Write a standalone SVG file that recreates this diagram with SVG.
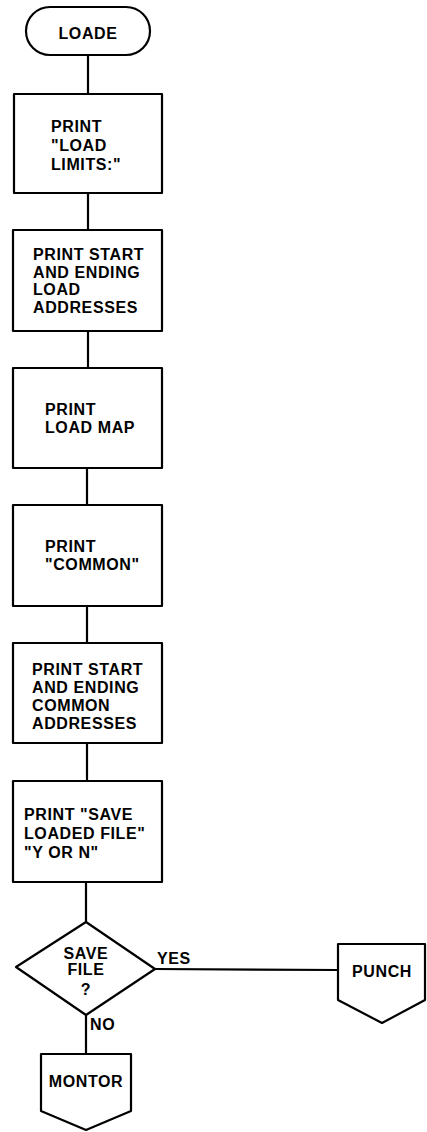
<svg xmlns="http://www.w3.org/2000/svg" width="427" height="1132" viewBox="0 0 427 1132">
<style>
.s{fill:#fff;stroke:#000;stroke-width:2.2;stroke-linejoin:round}
.c{fill:none;stroke:#000;stroke-width:2.2}
text{font-family:"Liberation Sans",Arial,sans-serif;font-weight:bold;font-size:16px;fill:#000;letter-spacing:0.6px}
.m{text-anchor:middle}
</style>
<rect width="427" height="1132" fill="#fff"/>
<g id="connectors">
<line class="c" x1="88" y1="55" x2="88" y2="94"/>
<line class="c" x1="88" y1="193" x2="88" y2="230"/>
<line class="c" x1="88" y1="331" x2="88" y2="368"/>
<line class="c" x1="87" y1="468" x2="87" y2="505"/>
<line class="c" x1="87" y1="606" x2="87" y2="643"/>
<line class="c" x1="87" y1="743" x2="87" y2="781"/>
<line class="c" x1="86" y1="882" x2="86" y2="922"/>
<line class="c" x1="155" y1="969" x2="338" y2="970"/>
<line class="c" x1="86" y1="1015" x2="86" y2="1054"/>
</g>
<g id="loade">
<rect class="s" x="26" y="7" width="124" height="48" rx="24"/>
<text class="m" x="88" y="39">LOADE</text>
</g>
<g id="box1">
<rect class="s" x="14" y="94" width="148" height="99"/>
<text x="51" y="132">PRINT</text>
<text x="51" y="151">"LOAD</text>
<text x="51" y="170">LIMITS:"</text>
</g>
<g id="box2">
<rect class="s" x="13" y="230" width="149" height="101"/>
<text x="33" y="260">PRINT START</text>
<text x="33" y="278">AND ENDING</text>
<text x="33" y="295">LOAD</text>
<text x="33" y="313">ADDRESSES</text>
</g>
<g id="box3">
<rect class="s" x="13" y="368" width="149" height="100"/>
<text x="45" y="415">PRINT</text>
<text x="45" y="433">LOAD MAP</text>
</g>
<g id="box4">
<rect class="s" x="13" y="505" width="149" height="101"/>
<text x="45" y="552">PRINT</text>
<text x="45" y="570">"COMMON"</text>
</g>
<g id="box5">
<rect class="s" x="13" y="643" width="149" height="100"/>
<text x="32" y="675">PRINT START</text>
<text x="32" y="693">AND ENDING</text>
<text x="32" y="711">COMMON</text>
<text x="32" y="729">ADDRESSES</text>
</g>
<g id="box6">
<rect class="s" x="13" y="781" width="149" height="101"/>
<text x="24" y="820">PRINT "SAVE</text>
<text x="24" y="839">LOADED FILE"</text>
<text x="24" y="858">"Y OR N"</text>
</g>
<g id="decision">
<polygon class="s" points="86,922 155,969 86,1015 16,967"/>
<text class="m" x="86" y="959">SAVE</text>
<text class="m" x="86" y="975">FILE</text>
<text class="m" x="86" y="995">?</text>
</g>
<g id="labels">
<text x="157" y="964">YES</text>
<text x="90" y="1030">NO</text>
</g>
<g id="punch">
<polygon class="s" points="338,944 425,944 425,1000 382,1023 338,1000"/>
<text class="m" x="382" y="977">PUNCH</text>
</g>
<g id="montor">
<polygon class="s" points="41,1054 131,1054 131,1111 86,1130 41,1111"/>
<text class="m" x="86" y="1087">MONTOR</text>
</g>
</svg>
